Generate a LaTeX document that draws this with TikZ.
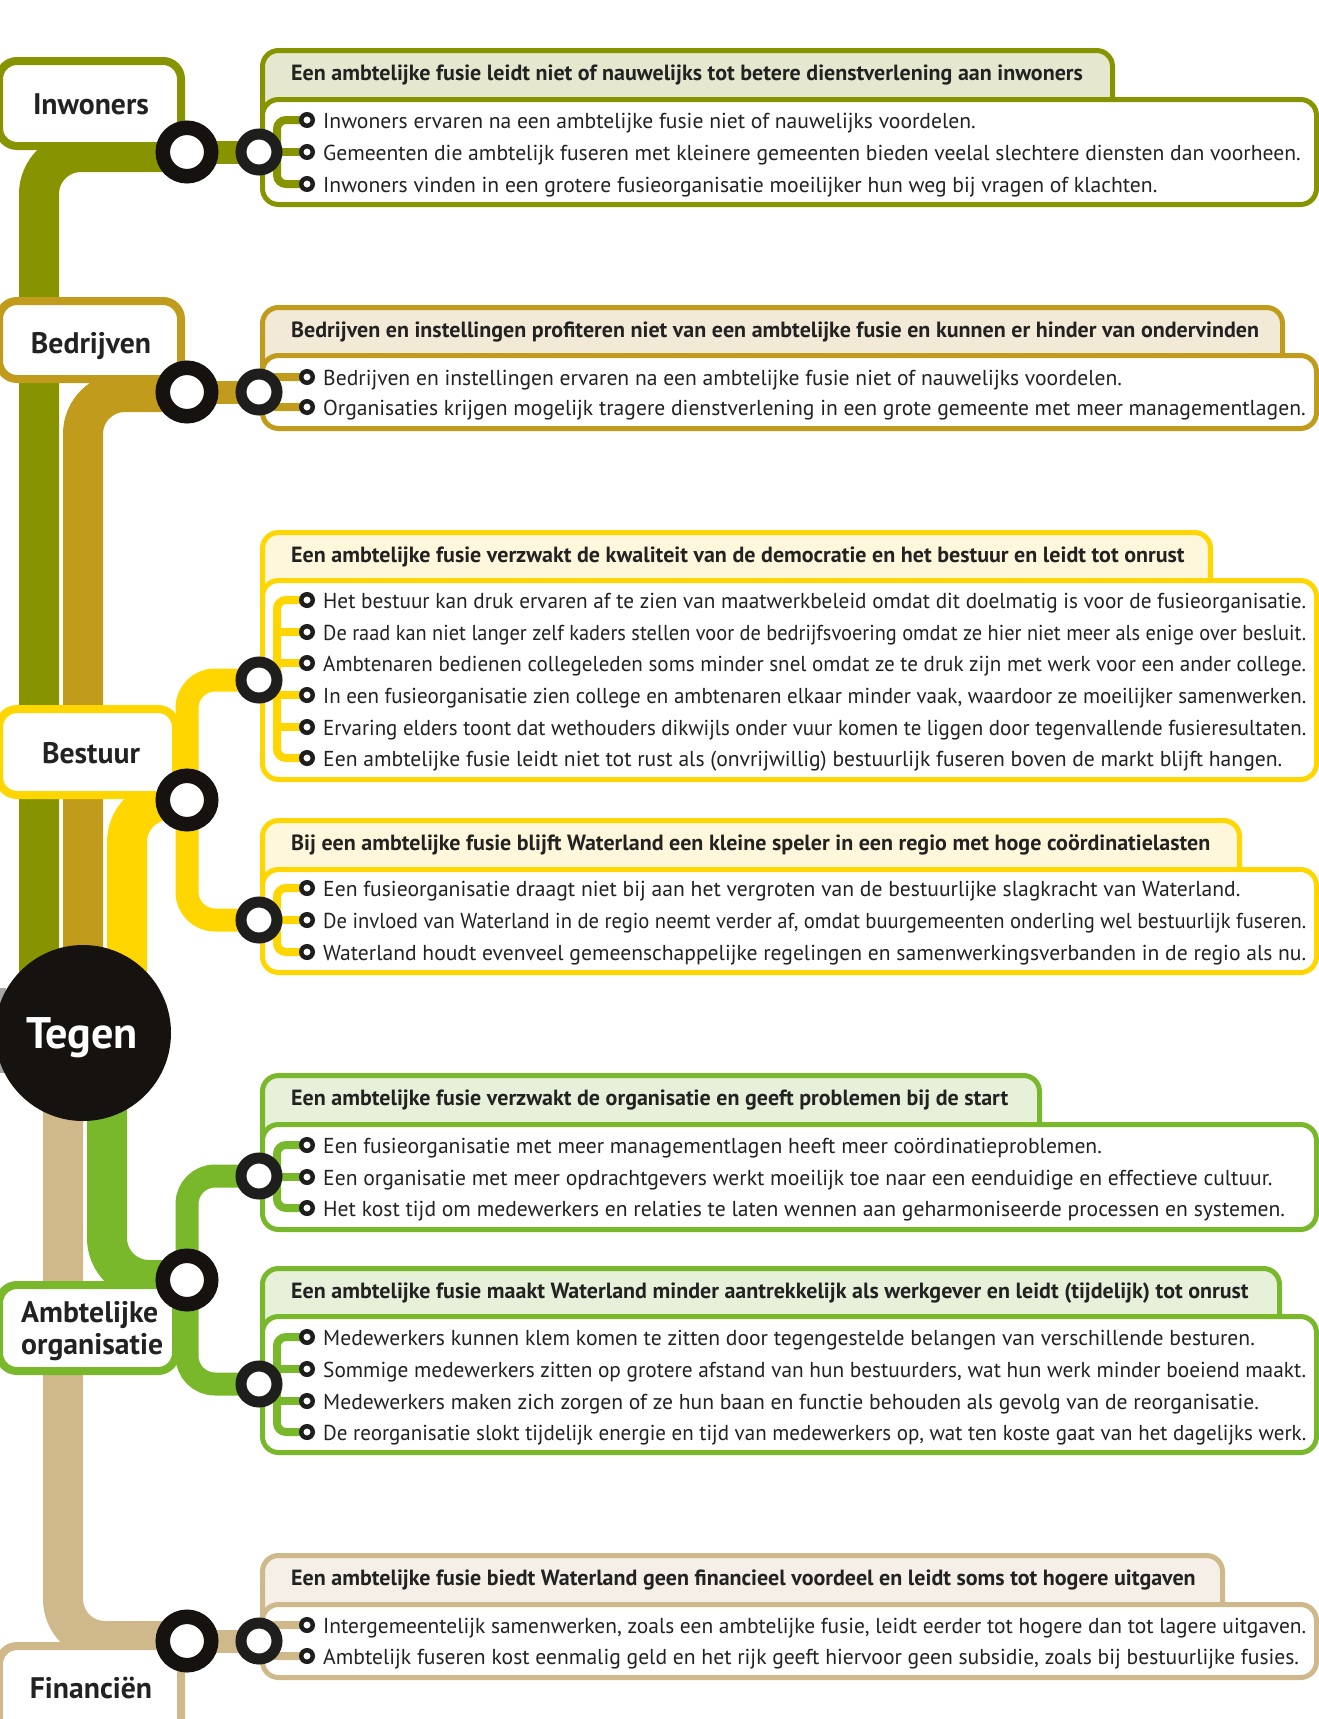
\documentclass[tikz,border=0pt]{standalone}
\usepackage{tikz}
\usepackage{graphicx}
\usepackage{fontspec}
\setmainfont{PT Sans}
\definecolor{cOlive}{RGB}{135,148,0}
\definecolor{cOliveL}{RGB}{229,232,207}
\definecolor{cGold}{RGB}{193,155,27}
\definecolor{cGoldL}{RGB}{242,234,214}
\definecolor{cYel}{RGB}{255,214,0}
\definecolor{cYelL}{RGB}{255,247,220}
\definecolor{cGreen}{RGB}{120,184,42}
\definecolor{cGreenL}{RGB}{231,241,218}
\definecolor{cTan}{RGB}{207,184,138}
\definecolor{cTanL}{RGB}{245,239,231}
\definecolor{cBlk}{RGB}{22,18,16}
\definecolor{cRing}{RGB}{30,30,28}
\definecolor{cText}{RGB}{34,34,34}
\definecolor{cGray}{RGB}{165,165,165}
\pgfdeclarelayer{trunks}
\pgfdeclarelayer{boxes}
\pgfdeclarelayer{lines}
\pgfsetlayers{trunks,boxes,lines,main}
\newlength\maxw
\setlength\maxw{983pt}
\newcommand\fitl[1]{\sbox0{#1}\ifdim\wd0>\maxw\resizebox{\maxw}{\height}{\usebox0}\else\usebox0\fi}
\tikzset{
  trunk/.style={line width=40pt, rounded corners=42pt},
  branch/.style={line width=23pt, rounded corners=28pt},
  sub/.style={line width=8pt, rounded corners=9pt},
  catbox/.style={line width=8pt, rounded corners=18pt, fill=white},
  bigring/.style={circle, draw=cBlk, line width=14.5pt, fill=white, minimum size=48.5pt, inner sep=0pt},
  smring/.style={circle, draw=cRing, line width=11pt, fill=white, minimum size=36pt, inner sep=0pt},
  bullet/.style={circle, draw=cRing, line width=4.5pt, fill=white, minimum size=11.5pt, inner sep=0pt},
  btext/.style={anchor=base west, inner sep=0pt, text=cText, font=\fontsize{21.6}{26}\selectfont},
  htext/.style={anchor=base west, inner sep=0pt, text=cText, font=\bfseries\fontsize{22}{26}\selectfont},
  ctext/.style={anchor=base, inner sep=0pt, text=cText, font=\bfseries\fontsize{29.7}{32}\selectfont},
  ctextl/.style={ctext, anchor=base west},
}
% detail box: color, fill, tab top, tab right, body top, body bottom (outer edges)
\newcommand\dbox[6]{%
  \draw[line width=5pt, draw=#1, fill=#2, rounded corners=16pt]
    (262.5,#5+30) -- (262.5,#3+2.5) -- (#4-2.5,#3+2.5) -- (#4-2.5,#5+30) -- cycle;
  \draw[line width=5pt, draw=#1, fill=white, rounded corners=16pt]
    (262.5,#5+2.5) rectangle (1316.5,#6-2.5);
}
\begin{document}
\begin{tikzpicture}[x=1pt,y=-1pt]
\useasboundingbox (0,0) rectangle (1319,1719);
\fill[cGray] (-5,988) rectangle (5.5,1073);

% ---------- Tegen ----------
\node[circle, fill=cBlk, minimum size=176pt, inner sep=0pt] (tegen) at (83,1033) {};
\node[anchor=base, inner sep=0pt, text=white, font=\bfseries\fontsize{44.2}{50}\selectfont] (tegenL) at (82,1048) {Tegen};
\coordinate (tOl) at (39,1033);
\coordinate (tGo) at (83,1033);
\coordinate (tYe) at (127,1033);
\coordinate (tGr) at (107,1033);
\coordinate (tTa) at (63,1033);

% ---------- Inwoners ----------
\node[bigring] (inwR) at (187,152) {};
\node[smring] (inwS) at (259,152) {};
\node[ctext] (inwL) at (91,114) {Inwoners};
\node[htext] (ha) at (291,80.5) {Een ambtelijke fusie leidt niet of nauwelijks tot betere dienstverlening aan inwoners};
\node[bullet] (a1) at (307,120) {};
\node[bullet] (a2) at (307,152) {};
\node[bullet] (a3) at (307,184) {};
\node[btext] (ta1) at (323,128) {\fitl{Inwoners ervaren na een ambtelijke fusie niet of nauwelijks voordelen.}};
\node[btext] (ta2) at (323,160) {\fitl{Gemeenten die ambtelijk fuseren met kleinere gemeenten bieden veelal slechtere diensten dan voorheen.}};
\node[btext] (ta3) at (323,192) {\fitl{Inwoners vinden in een grotere fusieorganisatie moeilijker hun weg bij vragen of klachten.}};
\begin{pgfonlayer}{boxes}
  \draw[catbox, draw=cOlive] (-1,61) rectangle (181,146);
  \dbox{cOlive}{cOliveL}{48}{1115}{97}{207}
\end{pgfonlayer}
\begin{pgfonlayer}{lines}
  \draw[branch, cOlive] (inwR.center) -- (inwS.center);
  \draw[sub, cOlive] (a1.center) -| (277,152) |- (a3.center);
  \draw[sub, cOlive] (inwS.center) -- (a2.center);
\end{pgfonlayer}
\begin{pgfonlayer}{trunks}
  \draw[trunk, cOlive] (tOl) |- (inwR.center);
\end{pgfonlayer}

% ---------- Bedrijven ----------
\node[bigring] (bedR) at (187,392) {};
\node[smring] (bedS) at (259,392) {};
\node[ctext] (bedL) at (91,353) {Bedrijven};
\node[htext] (hb) at (291,337) {Bedrijven en instellingen profiteren niet van een ambtelijke fusie en kunnen er hinder van ondervinden};
\node[bullet] (b1) at (307,377) {};
\node[bullet] (b2) at (307,407) {};
\node[btext] (tb1) at (323,385) {\fitl{Bedrijven en instellingen ervaren na een ambtelijke fusie niet of nauwelijks voordelen.}};
\node[btext] (tb2) at (323,415) {\fitl{Organisaties krijgen mogelijk tragere dienstverlening in een grote gemeente met meer managementlagen.}};
\begin{pgfonlayer}{boxes}
  \draw[catbox, draw=cGold] (-1,301) rectangle (181,379);
  \dbox{cGold}{cGoldL}{305}{1285}{353}{431}
\end{pgfonlayer}
\begin{pgfonlayer}{lines}
  \draw[branch, cGold] (bedR.center) -- (bedS.center);
  \draw[sub, cGold] (b1.center) -| (266,392) |- (b2.center);
\end{pgfonlayer}
\begin{pgfonlayer}{trunks}
  \draw[trunk, cGold] (tGo) |- (bedR.center);
\end{pgfonlayer}

% ---------- Bestuur ----------
\node[bigring] (besR) at (187,800) {};
\node[smring] (besS1) at (259,680) {};
\node[smring] (besS2) at (259,920) {};
\node[ctext] (besL) at (91,763) {Bestuur};
\node[htext] (hc) at (291,562) {Een ambtelijke fusie verzwakt de kwaliteit van de democratie en het bestuur en leidt tot onrust};
\node[bullet] (c1) at (307,600) {};
\node[bullet] (c2) at (307,632) {};
\node[bullet] (c3) at (307,663) {};
\node[bullet] (c4) at (307,695) {};
\node[bullet] (c5) at (307,727) {};
\node[bullet] (c6) at (307,758) {};
\node[btext] (tc1) at (323,608) {\fitl{Het bestuur kan druk ervaren af te zien van maatwerkbeleid omdat dit doelmatig is voor de fusieorganisatie.}};
\node[btext] (tc2) at (323,640) {\fitl{De raad kan niet langer zelf kaders stellen voor de bedrijfsvoering omdat ze hier niet meer als enige over besluit.}};
\node[btext] (tc3) at (323,671) {\fitl{Ambtenaren bedienen collegeleden soms minder snel omdat ze te druk zijn met werk voor een ander college.}};
\node[btext] (tc4) at (323,703) {\fitl{In een fusieorganisatie zien college en ambtenaren elkaar minder vaak, waardoor ze moeilijker samenwerken.}};
\node[btext] (tc5) at (323,735) {\fitl{Ervaring elders toont dat wethouders dikwijls onder vuur komen te liggen door tegenvallende fusieresultaten.}};
\node[btext] (tc6) at (323,766) {\fitl{Een ambtelijke fusie leidt niet tot rust als (onvrijwillig) bestuurlijk fuseren boven de markt blijft hangen.}};
\node[htext] (hd) at (291,850.5) {Bij een ambtelijke fusie blijft Waterland een kleine speler in een regio met hoge coördinatielasten};
\node[bullet] (d1) at (307,888) {};
\node[bullet] (d2) at (307,920) {};
\node[bullet] (d3) at (307,952) {};
\node[btext] (td1) at (323,896) {\fitl{Een fusieorganisatie draagt niet bij aan het vergroten van de bestuurlijke slagkracht van Waterland.}};
\node[btext] (td2) at (323,928) {\fitl{De invloed van Waterland in de regio neemt verder af, omdat buurgemeenten onderling wel bestuurlijk fuseren.}};
\node[btext] (td3) at (323,960) {\fitl{Waterland houdt evenveel gemeenschappelijke regelingen en samenwerkingsverbanden in de regio als nu.}};
\begin{pgfonlayer}{boxes}
  \draw[catbox, draw=cYel] (-1,709) rectangle (176,795);
  \dbox{cYel}{cYelL}{530}{1213}{578}{782}
  \dbox{cYel}{cYelL}{818}{1242}{867}{975}
\end{pgfonlayer}
\begin{pgfonlayer}{lines}
  \draw[branch, cYel] (besS1.center) -| (besR.center) |- (besS2.center);
  \draw[sub, cYel] (c1.center) -| (277,680) |- (c6.center);
  \foreach \n in {c2,c3,c4,c5} \draw[sub, cYel] (\n.center) -- ++(-30,0);
  \draw[sub, cYel] (d1.center) -| (277,920) |- (d3.center);
  \draw[sub, cYel] (besS2.center) -- (d2.center);
\end{pgfonlayer}
\begin{pgfonlayer}{trunks}
  \draw[trunk, cYel] (tYe) |- (besR.center);
\end{pgfonlayer}

% ---------- Ambtelijke organisatie ----------
\node[bigring] (ambR) at (187,1280) {};
\node[smring] (ambS1) at (259,1176) {};
\node[smring] (ambS2) at (259,1384) {};
\node[ctextl] (ambL1) at (21,1322) {Ambtelijke};
\node[ctextl] (ambL2) at (21,1354) {organisatie};
\node[htext] (he) at (291,1105.5) {Een ambtelijke fusie verzwakt de organisatie en geeft problemen bij de start};
\node[bullet] (e1) at (307,1145) {};
\node[bullet] (e2) at (307,1177) {};
\node[bullet] (e3) at (307,1208) {};
\node[btext] (te1) at (323,1153) {\fitl{Een fusieorganisatie met meer managementlagen heeft meer coördinatieproblemen.}};
\node[btext] (te2) at (323,1185) {\fitl{Een organisatie met meer opdrachtgevers werkt moeilijk toe naar een eenduidige en effectieve cultuur.}};
\node[btext] (te3) at (323,1216) {\fitl{Het kost tijd om medewerkers en relaties te laten wennen aan geharmoniseerde processen en systemen.}};
\node[htext] (hf) at (291,1298) {Een ambtelijke fusie maakt Waterland minder aantrekkelijk als werkgever en leidt (tijdelijk) tot onrust};
\node[bullet] (f1) at (307,1337) {};
\node[bullet] (f2) at (307,1369) {};
\node[bullet] (f3) at (307,1401) {};
\node[bullet] (f4) at (307,1432) {};
\node[btext] (tf1) at (323,1345) {\fitl{Medewerkers kunnen klem komen te zitten door tegengestelde belangen van verschillende besturen.}};
\node[btext] (tf2) at (323,1377) {\fitl{Sommige medewerkers zitten op grotere afstand van hun bestuurders, wat hun werk minder boeiend maakt.}};
\node[btext] (tf3) at (323,1409) {\fitl{Medewerkers maken zich zorgen of ze hun baan en functie behouden als gevolg van de reorganisatie.}};
\node[btext] (tf4) at (323,1440) {\fitl{De reorganisatie slokt tijdelijk energie en tijd van medewerkers op, wat ten koste gaat van het dagelijks werk.}};
\begin{pgfonlayer}{boxes}
  \draw[catbox, draw=cGreen] (-1,1285) rectangle (176,1371);
  \dbox{cGreen}{cGreenL}{1073}{1042}{1122}{1232}
  \dbox{cGreen}{cGreenL}{1266}{1282}{1314}{1455}
\end{pgfonlayer}
\begin{pgfonlayer}{lines}
  \draw[branch, cGreen] (ambS1.center) -| (ambR.center) |- (ambS2.center);
  \draw[sub, cGreen] (e1.center) -| (277,1176) |- (e3.center);
  \draw[sub, cGreen] (e2.center) -- ++(-30,0);
  \draw[sub, cGreen] (f1.center) -| (277,1384) |- (f4.center);
  \foreach \n in {f2,f3} \draw[sub, cGreen] (\n.center) -- ++(-30,0);
\end{pgfonlayer}
\begin{pgfonlayer}{trunks}
  \draw[trunk, cGreen] (tGr) |- (ambR.center);
\end{pgfonlayer}

% ---------- Financien ----------
\node[bigring] (finR) at (187,1641) {};
\node[smring] (finS) at (259,1641) {};
\node[ctext] (finL) at (91,1698) {Financiën};
\node[htext] (hg) at (291,1585.5) {Een ambtelijke fusie biedt Waterland geen financieel voordeel en leidt soms tot hogere uitgaven};
\node[bullet] (g1) at (307,1625) {};
\node[bullet] (g2) at (307,1656) {};
\node[btext] (tg1) at (323,1633) {\fitl{Intergemeentelijk samenwerken, zoals een ambtelijke fusie, leidt eerder tot hogere dan tot lagere uitgaven.}};
\node[btext] (tg2) at (323,1664) {\fitl{Ambtelijk fuseren kost eenmalig geld en het rijk geeft hiervoor geen subsidie, zoals bij bestuurlijke fusies.}};
\begin{pgfonlayer}{boxes}
  \draw[catbox, draw=cTan] (-1,1646) rectangle (181,1780);
  \dbox{cTan}{cTanL}{1553}{1225}{1602}{1680}
\end{pgfonlayer}
\begin{pgfonlayer}{lines}
  \draw[branch, cTan] (finR.center) -- (finS.center);
  \draw[sub, cTan] (g1.center) -| (266,1641) |- (g2.center);
\end{pgfonlayer}
\begin{pgfonlayer}{trunks}
  \draw[trunk, cTan] (tTa) |- (finR.center);
\end{pgfonlayer}
\end{tikzpicture}
\end{document}
